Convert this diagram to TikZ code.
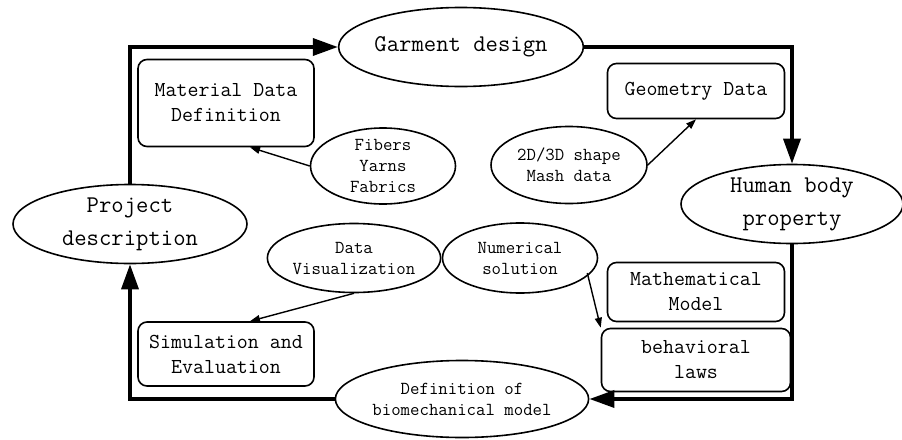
\documentclass[tikz,border=0pt]{standalone}
\usepackage{fontspec}
\usetikzlibrary{shapes.geometric,arrows.meta}
\tikzset{
  ell/.style={ellipse,draw,line width=1.6pt,inner sep=0pt,align=center,font=\ttfamily},
  rbox/.style={rectangle,draw,line width=1.6pt,rounded corners=9pt,inner sep=0pt,align=center,font=\ttfamily},
  big/.style={font=\ttfamily\fontsize{24}{33}\selectfont},
  mid/.style={font=\ttfamily\fontsize{21.3}{25}\selectfont},
  small/.style={font=\ttfamily\fontsize{18.3}{21}\selectfont},
  flow/.style={line width=3.5pt,-{Triangle[length=25pt,width=17pt]}},
  thin/.style={line width=1.4pt,-{Triangle[length=10pt,width=7pt]}}
}
\begin{document}
\begin{tikzpicture}[x=1pt,y=-1pt]
\useasboundingbox (0,0) rectangle (902,439);
% main ellipses
\node[ell,big,minimum width=233,minimum height=79] (gd) at (461,47) {Garment design};
\node[ell,big,minimum width=222,minimum height=79] (hb) at (792,204) {Human body\\property};
\node[ell,big,minimum width=234,minimum height=79] (pd) at (130,224) {Project\\description};
\node[ell,small,minimum width=235,minimum height=77] (def) at (462,399) {Definition of\\biomechanical model};
% boxes
\node[rbox,mid,minimum width=176,minimum height=87] (mat) at (226,103) {Material Data\\Definition};
\node[rbox,mid,minimum width=177,minimum height=55] (geo) at (696,91) {Geometry Data};
\node[rbox,mid,minimum width=177,minimum height=59] (math) at (696,292) {Mathematical\\Model};
\node[rbox,mid,minimum width=189,minimum height=63] (beh) at (696,360) {behavioral\\laws};
\node[rbox,mid,minimum width=176,minimum height=64] (sim) at (226,354) {Simulation and\\Evaluation};
% small ellipses
\node[ell,small,minimum width=145,minimum height=76] (fib) at (383,166) {Fibers\\Yarns\\Fabrics};
\node[ell,small,minimum width=156,minimum height=77] (shape) at (569,165) {2D/3D shape\\Mash data};
\node[ell,small,minimum width=155,minimum height=70] (num) at (520,258) {Numerical\\solution};
\node[ell,small,minimum width=157,minimum height=69] (vis) at (354,258) {Data\\Visualization};
% main cycle
\draw[flow] (pd.north) |- (gd.west);
\draw[flow] (gd.east) -| (hb.north);
\draw[flow] (hb.south) |- (def.east);
\draw[flow] (def.west) -| (pd.south);
% thin arrows
\draw[thin] (fib.west) -- ([xshift=24pt]mat.south);
\draw[thin] (shape.east) -- (geo.south);
\draw[thin] ([xshift=-11pt,yshift=-15pt]num.east) -- (beh.north west);
\draw[thin] (vis.south) -- ([xshift=24pt]sim.north);
\end{tikzpicture}
\end{document}
